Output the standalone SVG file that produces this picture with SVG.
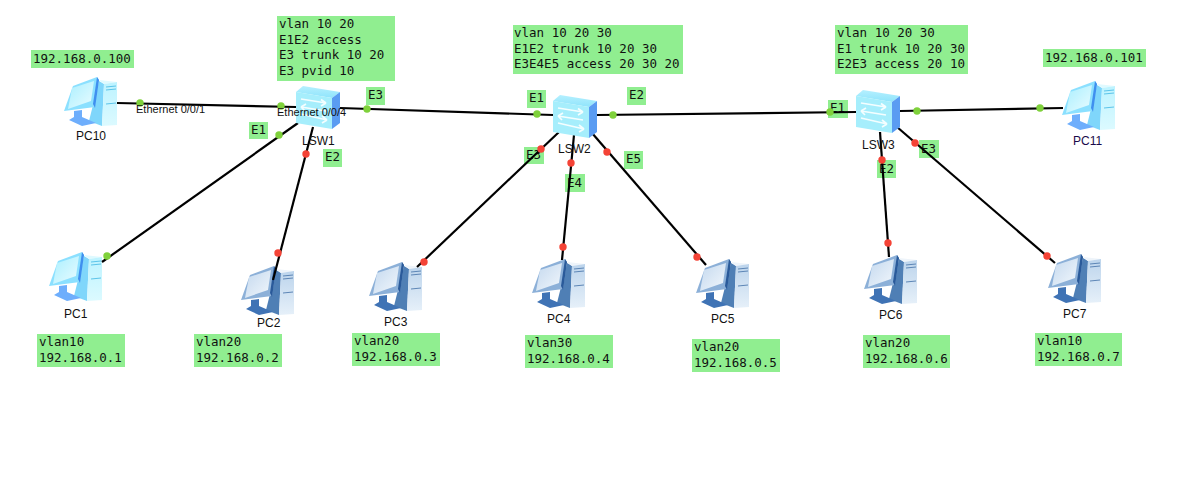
<svg xmlns="http://www.w3.org/2000/svg" xmlns:xlink="http://www.w3.org/1999/xlink" width="1191" height="493" viewBox="0 0 1191 493">
<style>
.note{fill:#90ee90}
.m{font-family:"DejaVu Sans Mono","Liberation Mono",monospace;font-size:12.5px;fill:#111}
.c{font-family:"Liberation Sans",Arial,sans-serif;font-size:12px;fill:#111}
.e{font-family:"Liberation Sans",Arial,sans-serif;font-size:11px;fill:#111}
.wire{stroke:#000;stroke-width:2.2;fill:none}
.g{fill:#7fd13b}
.r{fill:#f44336}
</style>
<defs>
<linearGradient id="lt" x1="0" y1="0" x2="1" y2="1"><stop offset="0" stop-color="#a9efff"/><stop offset="1" stop-color="#eafcff"/></linearGradient>
<linearGradient id="top" x1="0" y1="0" x2="0" y2="1"><stop offset="0" stop-color="#b5f0ff"/><stop offset="1" stop-color="#8fe4fb"/></linearGradient>
<linearGradient id="dk" x1="0" y1="0" x2="1" y2="1"><stop offset="0" stop-color="#c3d8ee"/><stop offset="1" stop-color="#f2f7fc"/></linearGradient>
<linearGradient id="twL" x1="0" y1="0" x2="0" y2="1"><stop offset="0" stop-color="#bdf3ff"/><stop offset="1" stop-color="#dcfaff"/></linearGradient>
<linearGradient id="twD" x1="0" y1="0" x2="0" y2="1"><stop offset="0" stop-color="#bcd4ec"/><stop offset="1" stop-color="#e6f0f9"/></linearGradient>
<g id="pcL">
<polygon points="35,4 40,7 38,49 25,44" fill="#7fd6fb"/>
<polygon points="35,3 53,5 40,7" fill="#dffaff"/>
<polygon points="40,7 53,5 53,48 38,49" fill="url(#twL)"/>
<path d="M42,10 L52,9 M42,13 L52,12 M42,27 L52,26" stroke="#5cc4ea" stroke-width="1"/>
<polygon points="9,9 33,0 35,3 31,30 0,34" fill="#8be0ff"/>
<polygon points="33,0 35,3 31,31 29,27" fill="#3f8fef"/>
<polygon points="8,11 30,4 27,24 4,32" fill="url(#lt)"/>
<polygon points="10,34 18,33 18,40 32,46 18,49 5,43 10,40" fill="#6eaefc"/>
</g>
<g id="pcD">
<polygon points="35,4 40,7 38,49 25,44" fill="#4f7fb5"/>
<polygon points="35,3 53,5 40,7" fill="#eef4fa"/>
<polygon points="40,7 53,5 53,48 38,49" fill="url(#twD)"/>
<path d="M42,10 L52,9 M42,13 L52,12 M42,27 L52,26" stroke="#5d86b6" stroke-width="1"/>
<polygon points="9,9 33,0 35,3 31,30 0,34" fill="#8cb0d8"/>
<polygon points="33,0 35,3 31,31 29,27" fill="#2a5a9a"/>
<polygon points="8,11 30,4 27,24 4,32" fill="url(#dk)"/>
<polygon points="10,34 18,33 18,40 32,46 18,49 5,43 10,40" fill="#3f73b5"/>
</g>
<g id="sw">
<polygon points="0,6 7,0 44,6 36,12" fill="url(#top)"/>
<polygon points="0,6 36,12 36,43 0,37" fill="#a6eefc"/>
<polygon points="36,12 44,6 44,37 36,43" fill="#5a9cf2"/>
<path d="M5,13 L30,17 M30,17 L25,13.5 M30,17 L25,20 M30,25 L5,21 M5,21 L10,18 M5,21 L9,25 M5,28 L31,34 M31,34 L26,30 M31,34 L26,37" stroke="#f4feff" stroke-width="1.7" fill="none"/>
</g>
</defs>
<rect width="1191" height="493" fill="#fff"/>

<g id="notes">
<rect class="note" x="31" y="50" width="103" height="18"/>
<rect class="note" x="277" y="16" width="118" height="65"/>
<rect class="note" x="513" y="25" width="170" height="49"/>
<rect class="note" x="835" y="25" width="133" height="49"/>
<rect class="note" x="1043" y="49" width="103" height="18"/>
<rect class="note" x="37" y="334" width="88" height="33"/>
<rect class="note" x="194" y="334" width="88" height="33"/>
<rect class="note" x="352" y="333" width="88" height="33"/>
<rect class="note" x="525" y="335" width="88" height="33"/>
<rect class="note" x="692" y="339" width="88" height="33"/>
<rect class="note" x="863" y="335" width="87" height="33"/>
<rect class="note" x="1035" y="333" width="87" height="33"/>
<rect class="note" x="366" y="87" width="19" height="18"/>
<rect class="note" x="249" y="122" width="19" height="17"/>
<rect class="note" x="323" y="149" width="19" height="18"/>
<rect class="note" x="527" y="90" width="19" height="18"/>
<rect class="note" x="627" y="87" width="19" height="18"/>
<rect class="note" x="524" y="147" width="20" height="17"/>
<rect class="note" x="565" y="174" width="20" height="18"/>
<rect class="note" x="624" y="151" width="19" height="18"/>
<rect class="note" x="828" y="100" width="20" height="18"/>
<rect class="note" x="919" y="140" width="20" height="18"/>
<rect class="note" x="877" y="160" width="19" height="18"/>
<text class="m" x="33" y="63">192.168.0.100</text>
<text class="m" x="279" y="28">vlan 10 20</text>
<text class="m" x="279" y="44">E1E2 access</text>
<text class="m" x="279" y="59">E3 trunk 10 20</text>
<text class="m" x="279" y="75">E3 pvid 10</text>
<text class="m" x="514" y="37">vlan 10 20 30</text>
<text class="m" x="514" y="53">E1E2 trunk 10 20 30</text>
<text class="m" x="514" y="68">E3E4E5 access 20 30 20</text>
<text class="m" x="837" y="37">vlan 10 20 30</text>
<text class="m" x="837" y="53">E1 trunk 10 20 30</text>
<text class="m" x="837" y="68">E2E3 access 20 10</text>
<text class="m" x="1045" y="62">192.168.0.101</text>
<text class="m" x="39" y="346">vlan10</text><text class="m" x="39" y="362">192.168.0.1</text>
<text class="m" x="196" y="346">vlan20</text><text class="m" x="196" y="362">192.168.0.2</text>
<text class="m" x="354" y="345">vlan20</text><text class="m" x="354" y="361">192.168.0.3</text>
<text class="m" x="527" y="347">vlan30</text><text class="m" x="527" y="363">192.168.0.4</text>
<text class="m" x="694" y="351">vlan20</text><text class="m" x="694" y="367">192.168.0.5</text>
<text class="m" x="865" y="347">vlan20</text><text class="m" x="865" y="363">192.168.0.6</text>
<text class="m" x="1037" y="345">vlan10</text><text class="m" x="1037" y="361">192.168.0.7</text>
<text class="m" x="368" y="99">E3</text>
<text class="m" x="251" y="134">E1</text>
<text class="m" x="325" y="161">E2</text>
<text class="m" x="529" y="102">E1</text>
<text class="m" x="629" y="99">E2</text>
<text class="m" x="526" y="159">E3</text>
<text class="m" x="567" y="187">E4</text>
<text class="m" x="626" y="163">E5</text>
<text class="m" x="830" y="112">E1</text>
<text class="m" x="921" y="153">E3</text>
<text class="m" x="879" y="173">E2</text>
</g>

<g id="PC10"><use href="#pcL" x="64" y="77"/><text class="c" x="76" y="140">PC10</text></g>
<g id="PC11"><use href="#pcL" x="1062" y="81"/><text class="c" x="1073" y="145" style="fill:#1a0a4a">PC11</text></g>
<g id="PC1"><use href="#pcL" x="49" y="252"/><text class="c" x="64" y="318">PC1</text></g>
<g id="PC2"><use href="#pcD" x="241" y="266"/><text class="c" x="257" y="327">PC2</text></g>
<g id="PC3"><use href="#pcD" x="369" y="262"/><text class="c" x="384" y="326">PC3</text></g>
<g id="PC4"><use href="#pcD" x="532" y="259"/><text class="c" x="547" y="323">PC4</text></g>
<g id="PC5"><use href="#pcD" x="696" y="259"/><text class="c" x="711" y="323">PC5</text></g>
<g id="PC6"><use href="#pcD" x="864" y="255"/><text class="c" x="879" y="319">PC6</text></g>
<g id="PC7"><use href="#pcD" x="1048" y="254"/><text class="c" x="1063" y="318">PC7</text></g>

<g id="connectors">
<path class="wire" d="M117,103 L296,107"/>
<path class="wire" d="M340,108 L553,115"/>
<path class="wire" d="M597,115 L856,112"/>
<path class="wire" d="M900,111 L1063,108"/>
<path class="wire" d="M298,123 L102,262"/>
<path class="wire" d="M313,127 L273,280"/>
<path class="wire" d="M559,132 L417,267"/>
<path class="wire" d="M574,135 L562,260"/>
<path class="wire" d="M592,133 L706,265"/>
<path class="wire" d="M880,132 L889,257"/>
<path class="wire" d="M897,127 L1055,263"/>
</g>

<g id="LSW1"><use href="#sw" x="296" y="86"/><text class="c" x="302" y="145">LSW1</text></g>
<g id="LSW2"><use href="#sw" x="553" y="95"/><text class="c" x="558" y="153">LSW2</text></g>
<g id="LSW3"><use href="#sw" x="856" y="90"/><text class="c" x="862" y="149">LSW3</text></g>

<g id="ports">
<circle class="g" cx="140" cy="103" r="3.7"/><circle class="g" cx="281" cy="106" r="3.7"/>
<circle class="g" cx="367" cy="109" r="3.7"/><circle class="g" cx="537" cy="114" r="3.7"/>
<circle class="g" cx="613" cy="115" r="3.7"/><circle class="g" cx="830" cy="112" r="3.7"/>
<circle class="g" cx="917" cy="111" r="3.7"/><circle class="g" cx="1040" cy="108" r="3.7"/>
<circle class="g" cx="279" cy="135" r="3.7"/><circle class="g" cx="107" cy="256" r="3.7"/>
<circle class="r" cx="306" cy="154" r="3.7"/><circle class="r" cx="278" cy="253" r="3.7"/>
<circle class="r" cx="541" cy="149" r="3.7"/><circle class="r" cx="424" cy="262" r="3.7"/>
<circle class="r" cx="571" cy="163" r="3.7"/><circle class="r" cx="563" cy="247" r="3.7"/>
<circle class="r" cx="607" cy="152" r="3.7"/><circle class="r" cx="697" cy="257" r="3.7"/>
<circle class="r" cx="882" cy="160" r="3.7"/><circle class="r" cx="888" cy="243" r="3.7"/>
<circle class="r" cx="915" cy="143" r="3.7"/><circle class="r" cx="1047" cy="256" r="3.7"/>
</g>
<text class="e" x="136" y="113">Ethernet 0/0/1</text>
<text class="e" x="277" y="116">Ethernet 0/0/4</text>
</svg>
